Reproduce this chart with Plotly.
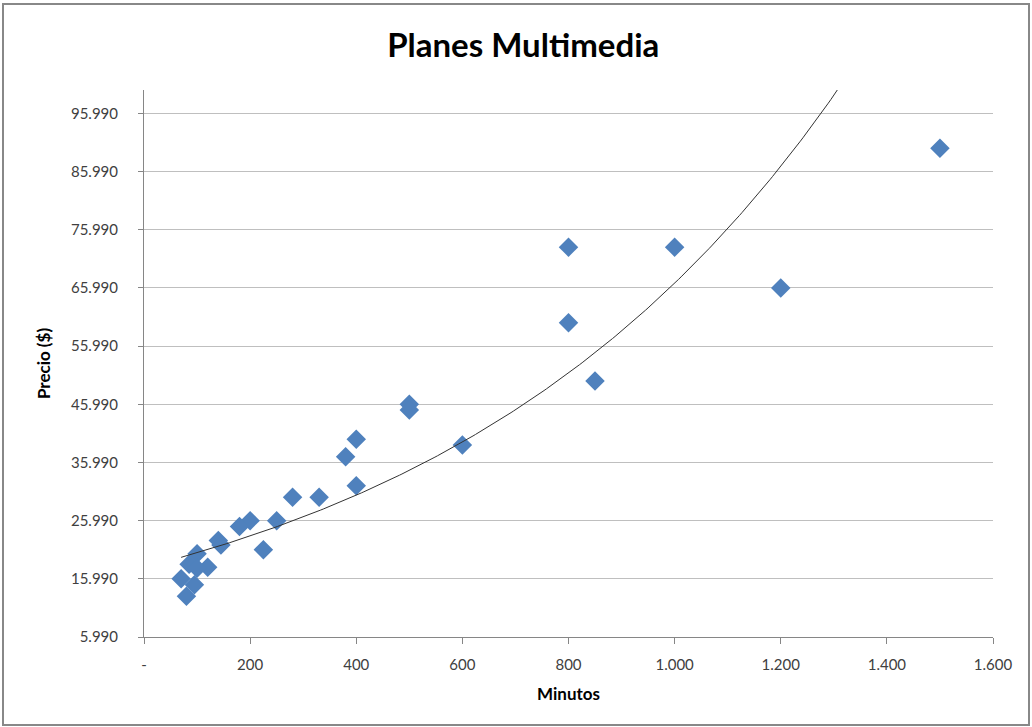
import numpy as np
import plotly.graph_objects as go

minutos = [1500, 800, 1000, 1200, 800, 850, 500, 500, 400, 600, 380, 400, 280, 330,
           250, 200, 180, 140, 145, 225, 100, 85, 120, 100, 70, 95, 80]
precio = [89990, 72990, 72990, 65990, 59990, 49990, 45990, 44990, 39990, 38990, 36990,
          31990, 29990, 29990, 25990, 25990, 24990, 22590, 21790, 20990, 20290, 18490,
          17990, 17790, 15990, 14990, 12990]

y_ticks = [5990, 15990, 25990, 35990, 45990, 55990, 65990, 75990, 85990, 95990]
y_labels = ["5.990", "15.990", "25.990", "35.990", "45.990", "55.990", "65.990",
            "75.990", "85.990", "95.990"]
x_ticks = [0, 200, 400, 600, 800, 1000, 1200, 1400, 1600]
x_labels = ["-", "200", "400", "600", "800", "1.000", "1.200", "1.400", "1.600"]

# Exponential trend line (least squares on ln y, like Excel)
xa = np.array(minutos, dtype=float)
ya = np.array(precio, dtype=float)
b, lna = np.polyfit(xa, np.log(ya), 1)
tx = np.linspace(xa.min(), xa.max(), 300)
ty = np.exp(lna) * np.exp(b * tx)

font = "Lato, Open Sans, sans-serif"

fig = go.Figure()
fig.add_trace(go.Scatter(x=minutos, y=precio, mode="markers",
                         marker=dict(symbol="diamond", size=15, color="#4F81BD",
                                     line=dict(width=0)),
                         showlegend=False, cliponaxis=True))
fig.add_trace(go.Scatter(x=tx, y=ty, mode="lines",
                         line=dict(color="#333333", width=1),
                         showlegend=False, hoverinfo="skip"))

fig.update_layout(
    width=1032, height=727,
    margin=dict(l=144, r=39, t=90, b=90),
    paper_bgcolor="white", plot_bgcolor="white",
    font=dict(family=font, color="#404040", size=15),
    title=dict(text="<b>Planes Multimedia</b>", x=0.507, xref="container", xanchor="center",
               y=0.938, yref="container", yanchor="middle",
               font=dict(family=font, size=33, color="#000000")),
    xaxis=dict(range=[0, 1600], tickvals=x_ticks, ticktext=x_labels,
               showgrid=False, showline=True, linecolor="#868686", linewidth=1,
               ticks="outside", ticklen=6, tickcolor="#868686",
               zeroline=False, ticklabelstandoff=8,
               tickfont=dict(family=font, size=15, color="#404040"),
               title=dict(text="<b>Minutos</b>", standoff=16,
                          font=dict(family=font, size=17, color="#000000"))),
    yaxis=dict(range=[5990, 100000], tickvals=y_ticks, ticktext=y_labels,
               showgrid=True, gridcolor="#BFBFBF", gridwidth=1.3,
               showline=True, linecolor="#868686", linewidth=1,
               ticks="outside", ticklen=5, tickcolor="#868686",
               zeroline=False, ticklabelstandoff=17,
               tickfont=dict(family=font, size=15, color="#404040"),
               title=dict(text="<b>Precio ($)</b>", standoff=16,
                          font=dict(family=font, size=17, color="#000000"))),
)
fig.add_shape(type="rect", xref="paper", yref="paper",
              x0=-141 / 849, x1=1 + 36 / 849, y0=-88 / 547, y1=1 + 86 / 547,
              line=dict(color="#888888", width=2), fillcolor="rgba(0,0,0,0)", layer="below")

fig.write_html("out.html", config={"displayModeBar": False},
               post_script="document.body.style.margin='0px';")
